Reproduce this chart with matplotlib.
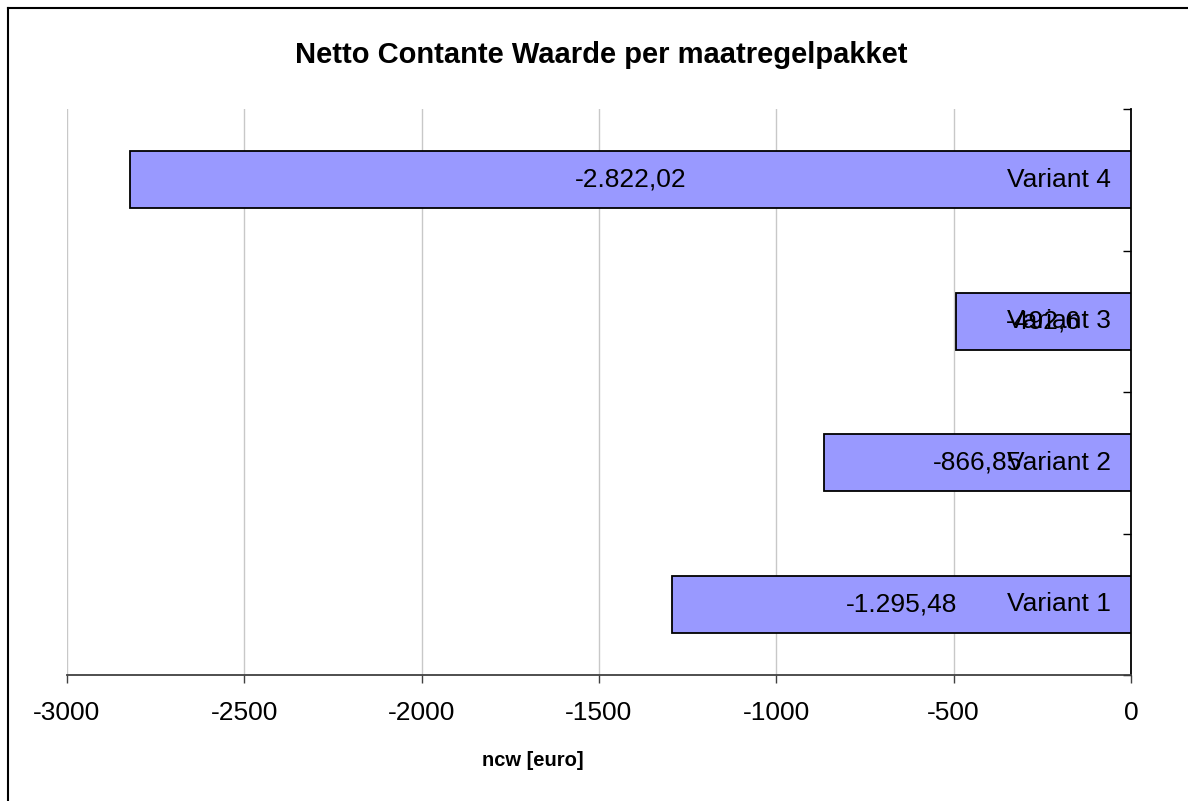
import matplotlib
matplotlib.use("Agg")
import matplotlib.pyplot as plt
from matplotlib.lines import Line2D

plt.rcParams['font.family'] = ['Liberation Sans', 'DejaVu Sans']

categories = ["Variant 1", "Variant 2", "Variant 3", "Variant 4"]
values = [-1295.48, -866.85, -492.6, -2822.02]
value_labels = ["-1.295,48", "-866,85", "-492,6", "-2.822,02"]
xticks = [-3000, -2500, -2000, -1500, -1000, -500, 0]

fig = plt.figure(figsize=(11.88, 8.01), dpi=100)
ax = fig.add_axes([67/1188, 1-675/801, (1131-67)/1188, (675-109)/801])

pos = list(range(len(categories)))
ax.barh(pos, values, height=0.4, color="#9999FF", edgecolor="black", linewidth=1.3, zorder=3)

for p, v, lab, cat in zip(pos, values, value_labels, categories):
    ax.text(v/2, p, lab, ha="center", va="center", fontsize=19, zorder=4)
    ax.annotate(cat, xy=(0, p), xytext=(-20, 0), textcoords="offset pixels",
                ha="right", va="center", fontsize=19, zorder=4)

ax.set_xlim(-3000, 0)
ax.set_ylim(-0.5, len(categories)-0.5)
ax.set_xticks(xticks)
ax.set_xticklabels([str(t) for t in xticks], fontsize=19)
ax.tick_params(axis="x", direction="out", length=6, width=1, color="#404040", pad=13)
ax.xaxis.grid(True, color="#C8C8C8", linewidth=1, zorder=0)
ax.set_axisbelow(True)

ax.yaxis.tick_right()
ax.set_yticks([-0.5, 0.5, 1.5, 2.5, 3.5])
ax.set_yticklabels([])
ax.tick_params(axis="y", direction="in", length=6, width=1, color="black")

for s in ["top", "left"]:
    ax.spines[s].set_visible(False)
ax.spines["bottom"].set_color("#404040")
ax.spines["bottom"].set_linewidth(1.3)
ax.spines["right"].set_color("black")
ax.spines["right"].set_linewidth(1.3)

fig.text(601/1188, 1-55/801, "Netto Contante Waarde per maatregelpakket", ha="center", va="center",
         fontsize=21, fontweight="bold")
fig.text(533/1188, 1-760/801, "ncw [euro]", ha="center", va="center", fontsize=14.5, fontweight="bold")

# outer chart border (top and left visible)
fig.add_artist(Line2D([8/1188, 1], [1-8/801, 1-8/801], transform=fig.transFigure, color="black", linewidth=1.5))
fig.add_artist(Line2D([8/1188, 8/1188], [0, 1-8/801], transform=fig.transFigure, color="black", linewidth=1.5))

fig.savefig("out.png", dpi=100)
